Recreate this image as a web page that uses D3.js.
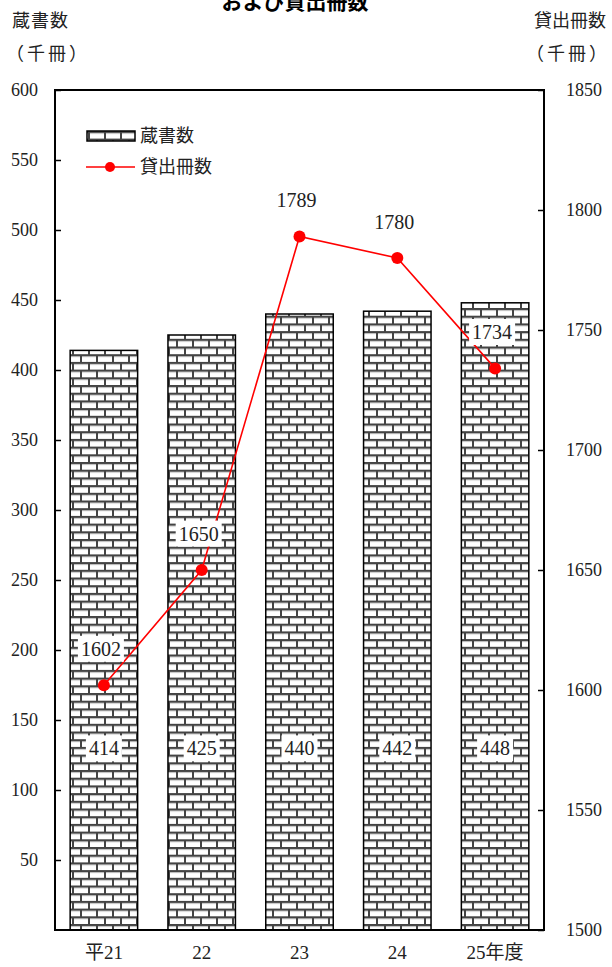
<!DOCTYPE html>
<html><head><meta charset="utf-8">
<script src="https://cdn.jsdelivr.net/npm/d3@7"></script>
<style>body{margin:0;background:#fff}</style>
</head><body>
<svg id="c" width="612" height="967"></svg>
<script>
const categories = ["平21", "22", "23", "24", "25年度"];
const holdings = [414, 425, 440, 442, 448];
const loans = [1602, 1650, 1789, 1780, 1734];
const leftTicks = [50,100,150,200,250,300,350,400,450,500,550,600];
const rightTicks = [1500,1550,1600,1650,1700,1750,1800,1850];

const svg = d3.select("#c");
const L = 55, R = 544, T = 90, B = 930;
const serif = "'Liberation Serif','DejaVu Serif',serif";
const cjk = "'Noto Sans CJK JP',sans-serif";
const mixed = "'Liberation Serif','Noto Sans CJK JP',serif";

const x = d3.scaleBand().domain(categories).range([L, R]).paddingInner(0.31).paddingOuter(0.155);
const yL = d3.scaleLinear().domain([0, 600]).range([B, T]);
const yR = d3.scaleLinear().domain([1500, 1850]).range([B, T]);

// brick pattern
const defs = svg.append("defs");
const pat = defs.append("pattern").attr("id","brick").attr("patternUnits","userSpaceOnUse")
  .attr("width",16).attr("height",15.4).attr("x", 0).attr("y", 0);
pat.append("rect").attr("width",16).attr("height",15.4).attr("fill","#fff");
const mortar = "#444";
pat.append("rect").attr("x",0).attr("y",0).attr("width",16).attr("height",2).attr("fill",mortar);
pat.append("rect").attr("x",0).attr("y",7.7).attr("width",16).attr("height",2).attr("fill",mortar);
pat.append("rect").attr("x",0).attr("y",0).attr("width",2).attr("height",7.7).attr("fill",mortar);
pat.append("rect").attr("x",8).attr("y",7.7).attr("width",2).attr("height",7.7).attr("fill",mortar);
pat.append("rect").attr("x",2).attr("y",2).attr("width",14).attr("height",1).attr("fill","#bbb");
pat.append("rect").attr("x",0).attr("y",9.7).attr("width",8).attr("height",1).attr("fill","#bbb");
pat.append("rect").attr("x",10).attr("y",9.7).attr("width",6).attr("height",1).attr("fill","#bbb");

// title (cut by top edge as in the reference)
svg.append("text").attr("x", 295).attr("y", 9).attr("text-anchor","middle")
  .style("font-family", cjk).style("font-weight","bold").style("font-size","21px").text("および貸出冊数");

// axis titles
const at = (t, xx, yy, anchor, ls) => svg.append("text").attr("x",xx).attr("y",yy).attr("text-anchor",anchor)
  .style("font-family",cjk).style("font-size","18px").style("letter-spacing", ls + "px").attr("fill","#222").text(t);
at("蔵書数", 12, 27, "start", 1);
at("（千冊）", 6, 60, "start", 3);
at("貸出冊数", 606, 27, "end", 0);
at("（千冊）", 610, 60, "end", 3);

// bars
svg.append("g").selectAll("rect").data(holdings).join("rect")
  .attr("x", (d,i)=>x(categories[i])).attr("width", x.bandwidth())
  .attr("y", d=>yL(d)).attr("height", d=>B - yL(d))
  .attr("fill","url(#brick)").attr("stroke","#000").attr("stroke-width",1.5);

// frame
svg.append("rect").attr("x",L).attr("y",T).attr("width",R-L).attr("height",B-T)
  .attr("fill","none").attr("stroke","#000").attr("stroke-width",2);

// left axis
const gL = svg.append("g").attr("transform",`translate(${L},0)`)
  .call(d3.axisLeft(yL).tickValues(leftTicks).tickFormat(d3.format("d")).tickSize(-6).tickPadding(17));
gL.select(".domain").remove();
gL.selectAll("line").attr("stroke","#000").attr("stroke-width",1.5);
gL.selectAll("text").style("font-family",serif).style("font-size","18px").attr("fill","#222");

// right axis
const gR = svg.append("g").attr("transform",`translate(${R},0)`)
  .call(d3.axisRight(yR).tickValues(rightTicks).tickFormat(d3.format("d")).tickSize(-6).tickPadding(22));
gR.select(".domain").remove();
gR.selectAll("line").attr("stroke","#000").attr("stroke-width",1.5);
gR.selectAll("text").style("font-family",serif).style("font-size","18px").attr("fill","#222");

// x labels
const gX = svg.append("g").attr("transform",`translate(0,${B})`)
  .call(d3.axisBottom(x).tickSize(0).tickPadding(16));
gX.select(".domain").remove();
gX.selectAll("text").style("font-family",mixed).style("font-size","19px").attr("fill","#222");

// line
const cx = (i)=>x(categories[i]) + x.bandwidth()/2;
svg.append("path").datum(loans)
  .attr("d", d3.line().x((d,i)=>cx(i)).y(d=>yR(d)))
  .attr("fill","none").attr("stroke","#ff0000").attr("stroke-width",1.6);
svg.append("g").selectAll("circle").data(loans).join("circle")
  .attr("cx",(d,i)=>cx(i)).attr("cy",d=>yR(d)).attr("r",6).attr("fill","#ff0000");

// labels with white boxes
function boxLabel(txt, xx, yy){
  const g = svg.append("g");
  const t = g.append("text").attr("x",xx).attr("y",yy).attr("text-anchor","middle")
    .attr("dominant-baseline","middle").style("font-family",serif).style("font-size","20px").attr("fill","#222").text(txt);
  const bb = t.node().getBBox();
  g.insert("rect","text").attr("x",bb.x-3).attr("y",bb.y-2).attr("width",bb.width+6).attr("height",bb.height+4).attr("fill","#fff");
}
holdings.forEach((d,i)=> boxLabel(d, cx(i), yL(128)));
loans.forEach((d,i)=> boxLabel(d, cx(i)-3, yR(d) - 34));

// legend
const lg = svg.append("g");
lg.append("rect").attr("x",87).attr("y",131).attr("width",48).attr("height",10)
  .attr("fill","url(#brick)").attr("stroke","#000").attr("stroke-width",1.5);
lg.append("text").attr("x",140).attr("y",137).attr("dominant-baseline","middle")
  .style("font-family",cjk).style("font-size","18px").attr("fill","#222").text("蔵書数");
lg.append("line").attr("x1",86).attr("x2",135).attr("y1",167).attr("y2",167).attr("stroke","#ff0000").attr("stroke-width",1.6);
lg.append("circle").attr("cx",110).attr("cy",167).attr("r",5).attr("fill","#ff0000");
lg.append("text").attr("x",140).attr("y",168).attr("dominant-baseline","middle")
  .style("font-family",cjk).style("font-size","18px").attr("fill","#222").text("貸出冊数");
</script>
</body></html>
